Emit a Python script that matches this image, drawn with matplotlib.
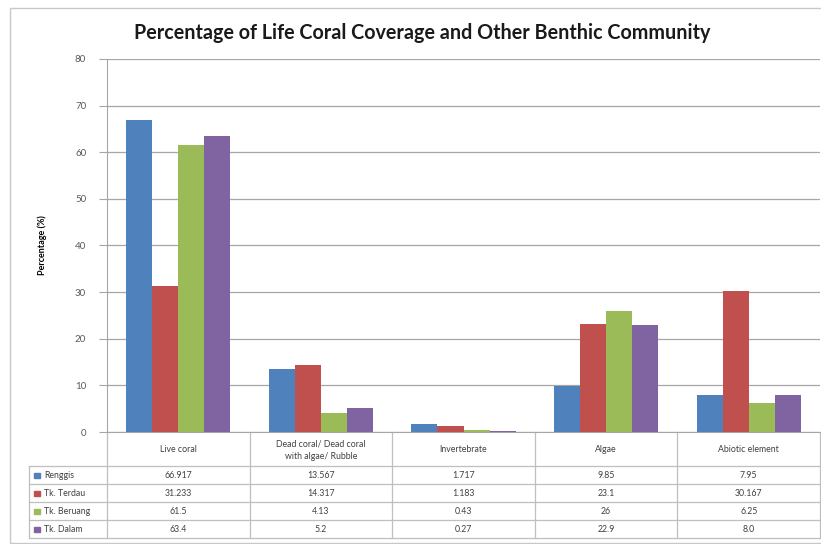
import numpy as np
import matplotlib.pyplot as plt
import matplotlib.transforms as mtransforms
from matplotlib.patches import Rectangle

plt.rcParams['font.family'] = ['Lato', 'DejaVu Sans']

categories = ['Live coral', 'Dead coral/ Dead coral\nwith algae/ Rubble', 'Invertebrate', 'Algae', 'Abiotic element']
sites = ['Renggis', 'Tk. Terdau', 'Tk. Beruang', 'Tk. Dalam']
renggis = [66.917, 13.567, 1.717, 9.85, 7.95]
terdau = [31.233, 14.317, 1.183, 23.1, 30.167]
beruang = [61.5, 4.13, 0.43, 26, 6.25]
dalam = [63.4, 5.2, 0.27, 22.9, 8.0]
labels_txt = [['66.917', '13.567', '1.717', '9.85', '7.95'],
              ['31.233', '14.317', '1.183', '23.1', '30.167'],
              ['61.5', '4.13', '0.43', '26', '6.25'],
              ['63.4', '5.2', '0.27', '22.9', '8.0']]
colors = ['#4F81BD', '#C0504D', '#9BBB59', '#8064A2']

W, H = 821, 544
fig = plt.figure(figsize=(W / 100, H / 100), dpi=100)

def fx(x):
    return x / W

def fy(y):
    return 1 - y / H

# outer chart border
fig.patches.append(Rectangle((fx(10), fy(543)), (822 - 10) / W, (543 - 8) / H,
                             transform=fig.transFigure, fill=False, edgecolor='#c8c8c8', lw=1))

ax = fig.add_axes([fx(107), fy(432), fx(820 - 107), (432 - 59) / H])
series = [renggis, terdau, beruang, dalam]
x = np.arange(len(categories))
bw = 0.183
for i, s in enumerate(series):
    ax.bar(x + 0.5 + (i - 1.5) * bw, s, width=bw, color=colors[i], edgecolor='none', zorder=3)

ax.set_xlim(0, len(categories))
ax.set_ylim(0, 80)
ax.set_yticks(range(0, 81, 10))
ax.set_xticks([])
ax.grid(axis='y', color='#a6a6a6', lw=0.9, zorder=0)
for side in ['top', 'right']:
    ax.spines[side].set_visible(False)
ax.spines['left'].set_color('#a6a6a6')
ax.spines['bottom'].set_color('#a6a6a6')
ax.tick_params(axis='y', length=6, color='#a6a6a6', labelsize=7, labelcolor='#595959', pad=9)
ax.set_ylabel('Percentage (%)', fontsize=6.5, fontweight='bold', labelpad=20)

fig.text(fx(422), fy(33), 'Percentage of Life Coral Coverage and Other Benthic Community',
         ha='center', va='center', fontsize=14.2, fontweight='bold', color='#1a1a1a')

# data table under the axis
tr = mtransforms.blended_transform_factory(ax.transData, fig.transFigure)
row_y = [432, 466, 484, 502, 520, 538]
gc = '#bfbfbf'
for j in range(len(categories) + 1):
    ax.plot([j, j], [fy(432), fy(538)], transform=tr, color=gc, lw=0.9, clip_on=False)
for yy in row_y[1:]:
    fig.add_artist(plt.Line2D([fx(29), fx(820)], [fy(yy), fy(yy)], color=gc, lw=0.9))
fig.add_artist(plt.Line2D([fx(29), fx(29)], [fy(466), fy(538)], color=gc, lw=0.9))

for j, c in enumerate(categories):
    ax.text(j + 0.5, fy(450), c, transform=tr, ha='center', va='center', fontsize=6.3, color='#404040',
            linespacing=1.5)
for i, name in enumerate(sites):
    yc = fy((row_y[i + 1] + row_y[i + 2]) / 2)
    fig.patches.append(Rectangle((fx(34), yc - 2.5 / H), 6 / W, 5 / H, transform=fig.transFigure,
                                 color=colors[i]))
    fig.text(fx(44), yc, name, ha='left', va='center', fontsize=6.3, color='#404040')
    for j in range(len(categories)):
        ax.text(j + 0.5, yc, labels_txt[i][j], transform=tr, ha='center', va='center',
                fontsize=6.3, color='#404040')

fig.savefig('out.png', dpi=100)
